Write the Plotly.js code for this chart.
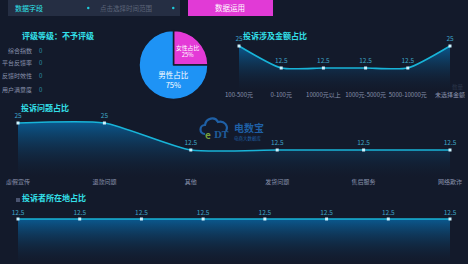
<!DOCTYPE html>
<html><head><meta charset="utf-8">
<script src="https://cdn.plot.ly/plotly-3.0.1.min.js"></script>
<style>html,body{margin:0;padding:0;background:#131a2b;}#c{width:468px;height:264px;}</style>
</head><body><div id="c"></div>
<script>
// ---- data ----
var genderLabels = ['女性占比', '男性占比'];
var genderValues = [25, 75];

var amountCats = ['100-500元', '0-100元', '10000元以上', '1000元-5000元', '5000-10000元', '未选择金额'];
var amountVals = [25, 12.5, 12.5, 12.5, 12.5, 25];

var issueCats = ['虚假宣传', '退款问题', '其他', '发货问题', '售后服务', '网络欺诈'];
var issueVals = [25, 25, 12.5, 12.5, 12.5, 12.5];

var regionCats = ['地区1', '地区2', '地区3', '地区4', '地区5', '地区6', '地区7', '地区8'];
var regionVals = [12.5, 12.5, 12.5, 12.5, 12.5, 12.5, 12.5, 12.5];

var ratingLabels = ['综合指数', '平台反馈率', '反馈时效性', '用户满意度'];
var ratingVals = [0, 0, 0, 0];

// ---- helpers ----
var W = 468, H = 264;
function px(x){ return x / W; }
function py(y){ return (H - y) / H; }
var font = '"Noto Sans CJK SC", "Noto Sans", sans-serif';

function areaTrace(cats, vals, xa, ya){
  return {
    type: 'scatter', mode: 'lines+markers+text',
    x: cats.map(function(_, i){ return i; }), y: vals,
    text: vals.map(String), textposition: 'top center',
    textfont: {size: 6.5, color: '#3fa6c8', family: font},
    cliponaxis: false,
    line: {color: '#18b4d8', width: 1.6, shape: 'spline', smoothing: 0.6},
    marker: {size: 3, color: '#cdf3ff', symbol: 'square'},
    fill: 'tozeroy',
    fillgradient: {type: 'vertical', colorscale: [[0, 'rgba(19,26,43,0.2)'], [1, 'rgba(10,92,148,0.95)']]},
    xaxis: xa, yaxis: ya, hoverinfo: 'skip', showlegend: false
  };
}

var traces = [
  {
    type: 'pie', labels: genderLabels, values: genderValues, sort: false, direction: 'clockwise', rotation: 0,
    marker: {colors: ['#e43ad7', '#1e93f5'], line: {color: '#131a2b', width: 1.5}},
    texttemplate: '%{label}<br>%{percent}', textposition: 'inside', insidetextorientation: 'horizontal',
    textfont: {size: 7.5, color: '#ffffff', family: font},
    domain: {x: [px(139), px(208)], y: [py(100), py(30)]},
    showlegend: false, hoverinfo: 'skip'
  },
  areaTrace(amountCats, amountVals, 'x', 'y'),
  areaTrace(issueCats, issueVals, 'x2', 'y2'),
  areaTrace(regionCats, regionVals, 'x3', 'y3')
];

function xax(cats, x0, x1, anchor, show){
  return {
    domain: [px(x0), px(x1)], range: [0, cats.length - 1], anchor: anchor,
    tickvals: cats.map(function(_, i){ return i; }), ticktext: cats, tickangle: 0,
    showticklabels: show, tickfont: {size: 6, color: '#8a93ad', family: font},
    showgrid: false, zeroline: false, showline: false, ticks: '', fixedrange: true
  };
}
function yax(y0px, y1px, range, anchor){
  return {domain: [py(y0px), py(y1px)], range: range, anchor: anchor, visible: false, showgrid: false, zeroline: false, fixedrange: true};
}

var annotations = [];
function txt(x, y, t, size, color, anchor, fam){
  annotations.push({xref: 'paper', yref: 'paper', x: px(x), y: py(y), text: t, showarrow: false,
    xanchor: anchor || 'left', yanchor: 'middle', font: {size: size, color: color, family: fam || font}});
}
// top bar
txt(13, 8, '数据字段', 7, '#2fe3ea');
txt(98, 8, '点击选择时间范围', 6.5, '#5c6478');
txt(230, 8, '数据运用', 7.5, '#ffffff', 'center');
// titles
txt(20, 35, '<b>评级等级：不予评级</b>', 8, '#33e0ea');
txt(241, 35, '<b>投诉涉及金额占比</b>', 8, '#33e0ea');
txt(19, 108, '<b>投诉问题占比</b>', 8, '#33e0ea');
txt(20, 197, '<b>投诉者所在地占比</b>', 8, '#33e0ea');
// rating list
var listY = [50, 62.5, 76, 89.5];
ratingLabels.forEach(function(l, i){
  txt(34, listY[i], l, 6, '#8a93ad', 'right');
  txt(41, listY[i], String(ratingVals[i]), 6, '#2a93a8', 'center');
});
// watermark
txt(232, 127, '<b>电数宝</b>', 10, '#1f60a6');
txt(232, 138, '电商大数据库', 4.5, '#1f60a6');
txt(208, 134, '<b>e</b>', 10, '#7aa23a', 'center');
txt(212, 135, '<b>DT</b>', 9, '#1f5a99', 'left', 'DejaVu Serif');
// faint axis name
txt(458, 87, '数量', 5.5, '#2a3347', 'center');

var bg = '#131a2b';
var shapes = [
  {type: 'rect', xref: 'paper', yref: 'paper', x0: px(8), x1: px(180), y0: py(16), y1: py(0), fillcolor: '#252e43', line: {width: 0}, layer: 'below'},
  {type: 'rect', xref: 'paper', yref: 'paper', x0: px(188), x1: px(273), y0: py(16), y1: py(0), fillcolor: '#e13ad6', line: {width: 0}, layer: 'below'},
  {type: 'circle', xref: 'paper', yref: 'paper', x0: px(87), x1: px(89.5), y0: py(9.2), y1: py(6.8), fillcolor: '#1fc8d8', line: {width: 0}},
  {type: 'circle', xref: 'paper', yref: 'paper', x0: px(172), x1: px(174.5), y0: py(9.2), y1: py(6.8), fillcolor: '#1fc8d8', line: {width: 0}},
  // cloud logo
  {type: 'path', xref: 'paper', yref: 'paper',
   path: 'M ' + px(205) + ',' + py(134) + ' C ' + px(199) + ',' + py(134) + ' ' + px(199) + ',' + py(125) + ' ' + px(205) + ',' + py(125) +
         ' C ' + px(206) + ',' + py(118) + ' ' + px(215) + ',' + py(116) + ' ' + px(218) + ',' + py(122) +
         ' C ' + px(224) + ',' + py(120) + ' ' + px(229) + ',' + py(126) + ' ' + px(226) + ',' + py(131),
   line: {color: '#1f60a6', width: 2.2}, fillcolor: 'rgba(0,0,0,0)'},
  // small icon near bottom title
  {type: 'rect', xref: 'paper', yref: 'paper', x0: px(16), x1: px(20), y0: py(202), y1: py(198), fillcolor: '#4a5470', line: {width: 0}}
];

var layout = {
  width: W, height: H, margin: {l: 0, r: 0, t: 0, b: 0},
  paper_bgcolor: bg, plot_bgcolor: 'rgba(0,0,0,0)',
  showlegend: false,
  xaxis: xax(amountCats, 239, 450, 'y', true),
  yaxis: yax(90, 37.2, [0, 30], 'x'),
  xaxis2: xax(issueCats, 18, 450, 'y2', true),
  yaxis2: yax(177, 112.2, [0, 30], 'x2'),
  xaxis3: xax(regionCats, 18, 450, 'y3', false),
  yaxis3: yax(264, 210, [0, 15], 'x3'),
  annotations: annotations, shapes: shapes
};

Plotly.newPlot('c', traces, layout, {displayModeBar: false, staticPlot: true});
</script></body></html>
